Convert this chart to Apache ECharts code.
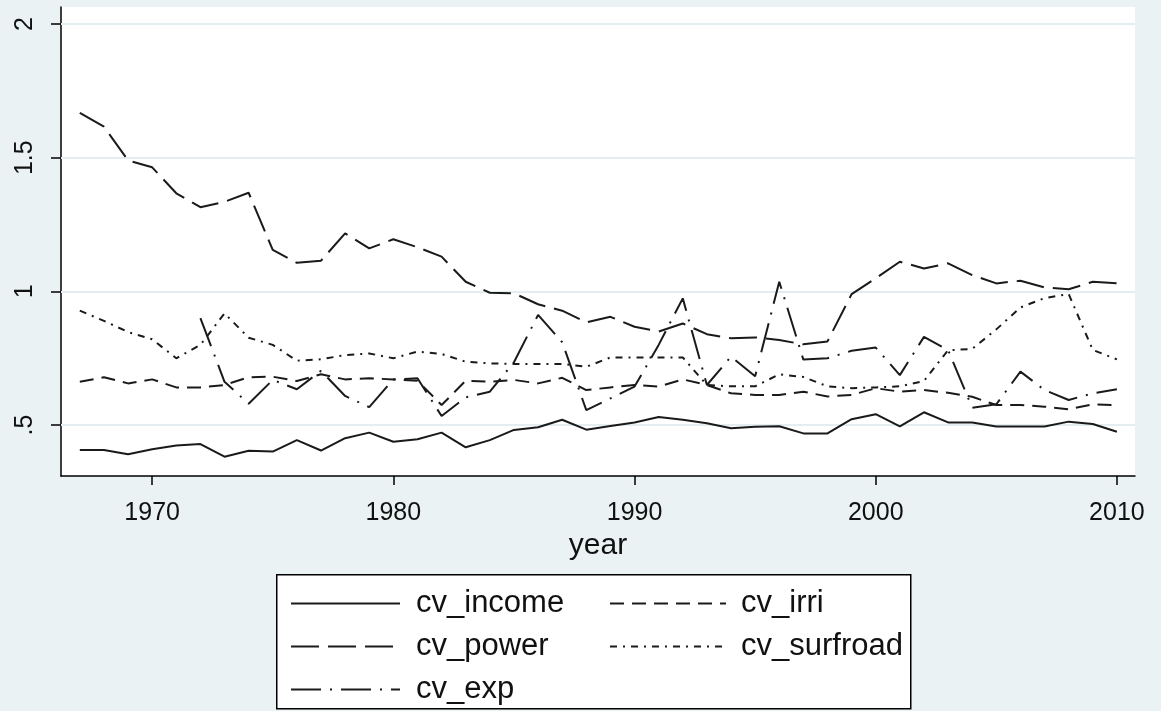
<!DOCTYPE html>
<html>
<head>
<meta charset="utf-8">
<script src="https://cdn.jsdelivr.net/npm/echarts@6/dist/echarts.min.js"></script>
<style>
html,body{margin:0;padding:0;background:#eaf2f3;}
#c{width:1161px;height:711px;}
</style>
</head>
<body>
<div id="c"></div>
<script>
const years = [1967,1968,1969,1970,1971,1972,1973,1974,1975,1976,1977,1978,1979,1980,1981,1982,1983,1984,1985,1986,1987,1988,1989,1990,1991,1992,1993,1994,1995,1996,1997,1998,1999,2000,2001,2002,2003,2004,2005,2006,2007,2008,2009,2010];

const cv_income = [0.407,0.407,0.391,0.410,0.424,0.429,0.382,0.404,0.401,0.444,0.405,0.451,0.472,0.438,0.447,0.472,0.417,0.444,0.482,0.492,0.520,0.483,0.497,0.510,0.530,0.520,0.507,0.488,0.494,0.496,0.469,0.469,0.522,0.541,0.495,0.548,0.510,0.510,0.495,0.495,0.495,0.513,0.504,0.475];

const cv_irri = [0.662,0.679,0.656,0.671,0.641,0.641,0.650,0.679,0.681,0.665,0.690,0.671,0.675,0.671,0.666,0.575,0.666,0.662,0.669,0.656,0.677,0.631,0.641,0.650,0.644,0.671,0.650,0.619,0.613,0.613,0.625,0.607,0.613,0.638,0.625,0.631,0.621,0.606,0.575,0.575,0.569,0.559,0.578,0.575];

const cv_power = [1.668,1.616,1.490,1.464,1.367,1.315,1.335,1.369,1.155,1.107,1.115,1.217,1.161,1.195,1.165,1.130,1.036,0.995,0.993,0.952,0.928,0.884,0.905,0.868,0.850,0.880,0.840,0.825,0.828,0.818,0.802,0.813,0.990,1.049,1.111,1.086,1.105,1.061,1.030,1.040,1.015,1.008,1.036,1.030];

const cv_surfroad = [0.928,0.890,0.848,0.821,0.750,0.800,0.918,0.827,0.800,0.741,0.746,0.762,0.768,0.750,0.775,0.766,0.737,0.731,0.729,0.729,0.729,0.718,0.753,0.753,0.753,0.753,0.650,0.645,0.645,0.690,0.680,0.645,0.638,0.641,0.645,0.665,0.780,0.785,0.858,0.940,0.975,0.990,0.781,0.746];

const cv_exp = [null,null,null,null,null,0.900,0.662,0.580,0.669,0.634,0.703,0.609,0.567,0.671,0.675,0.534,0.604,0.625,0.735,0.912,0.810,0.556,0.600,0.644,0.800,0.974,0.650,0.756,0.683,1.036,0.745,0.750,0.778,0.790,0.687,0.830,0.781,0.565,0.578,0.700,0.631,0.594,0.619,0.634];

const xTicks = [1970,1980,1990,2000,2010];
const yTicks = [0.5,1,1.5,2];

const FONT = "'Liberation Sans',Arial,sans-serif";
const INK = '#1a1a1a';

function pairs(vals){ return years.map((y,i)=>[y, vals[i]]); }

function mkSeries(name, vals, dash, extra){
  return Object.assign({
    name: name,
    type: 'line',
    data: pairs(vals),
    symbol: 'none',
    showSymbol: false,
    connectNulls: false,
    z: 3,
    lineStyle: {color: INK, width: 2, type: dash},
    itemStyle: {color: INK},
    emphasis: {disabled: true}
  }, extra || {});
}

const chart = echarts.init(document.getElementById('c'), null, {renderer:'canvas'});

const legendCommon = {
  orient: 'vertical', top: 588, padding: 0,
  itemHeight: 30, itemGap: 12,
  lineStyle: {width: 2},
  itemStyle: {opacity: 0},
  selectedMode: false, z: 5
};

const option = {
  backgroundColor: '#eaf2f3',
  animation: false,
  grid: {
    left: 61, right: 26, top: 7, bottom: 235,
    show: true, backgroundColor: '#ffffff', borderWidth: 0,
    outerBoundsMode: 'none', containLabel: false
  },
  xAxis: {
    type: 'value',
    min: 1966.22, max: 2010.75,
    name: 'year',
    nameLocation: 'middle',
    nameGap: 42,
    nameTextStyle: {fontFamily: FONT, fontSize: 30, color: '#111'},
    axisLine: {show: true, onZero: false, lineStyle: {color: '#000', width: 1.5}},
    axisTick: {show: true, length: 9, customValues: xTicks, lineStyle: {color: '#000', width: 1.5}},
    axisLabel: {show: true, customValues: xTicks, margin: 25, fontFamily: FONT, fontSize: 25, color: '#111',
      formatter: v => String(v)},
    splitLine: {show: false}
  },
  yAxis: {
    type: 'value',
    min: 0.3097, max: 2.0636,
    axisLine: {show: true, onZero: false, lineStyle: {color: '#000', width: 1.5}},
    axisTick: {show: true, length: 10, customValues: yTicks, lineStyle: {color: '#000', width: 1.5}},
    axisLabel: {show: true, customValues: yTicks, rotate: 90, margin: 23, fontFamily: FONT, fontSize: 25, color: '#111',
      formatter: v => (v === 0.5 ? '.5' : String(v))},
    splitLine: {show: false}
  },
  legend: [
    Object.assign({}, legendCommon, {
      left: 290,
      data: ['cv_income', 'cv_power', 'cv_exp'],
      itemWidth: 109,
      textStyle: {fontFamily: FONT, fontSize: 31, lineHeight: 30, color: '#111', padding: [0,0,0,11]}
    }),
    Object.assign({}, legendCommon, {
      left: 609,
      data: ['cv_irri', 'cv_surfroad'],
      itemWidth: 116,
      textStyle: {fontFamily: FONT, fontSize: 31, lineHeight: 30, color: '#111', padding: [0,0,0,10]}
    })
  ],
  graphic: [
    {type: 'rect', left: 276, top: 574, z: 1,
     shape: {width: 634, height: 134},
     style: {fill: '#ffffff', stroke: '#000', lineWidth: 1.5}}
  ],
  series: [
    mkSeries('cv_income', cv_income, 'solid', {
      markLine: {
        silent: true, symbol: ['none','none'], z: 1,
        label: {show: false},
        lineStyle: {color: '#e4eef0', type: 'solid', width: 2},
        emphasis: {disabled: true},
        data: yTicks.map(v => ({yAxis: v}))
      }
    }),
    mkSeries('cv_irri', cv_irri, [14, 8]),
    mkSeries('cv_power', cv_power, [28, 9]),
    mkSeries('cv_surfroad', cv_surfroad, [7, 6, 2, 6]),
    mkSeries('cv_exp', cv_exp, [30, 9, 2, 9])
  ]
};
chart.setOption(option);
</script>
</body>
</html>
